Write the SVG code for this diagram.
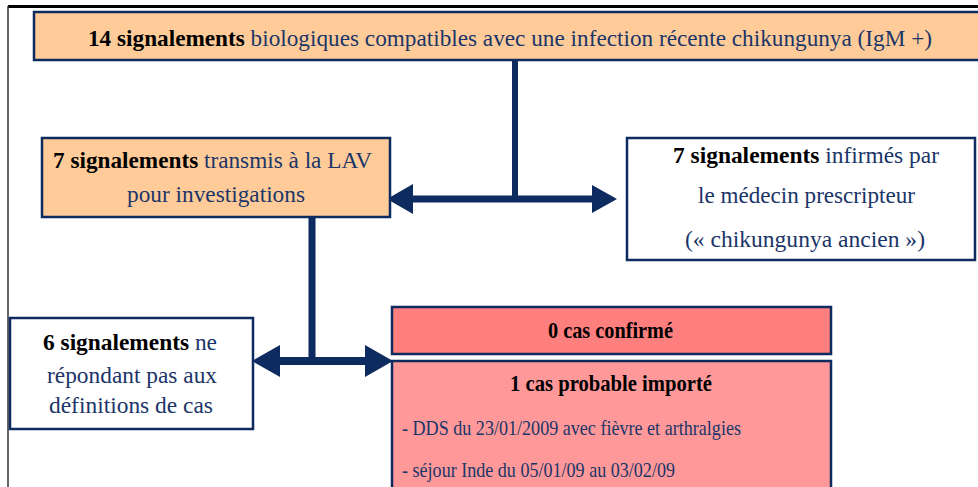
<svg xmlns="http://www.w3.org/2000/svg" width="978" height="487" viewBox="0 0 978 487" font-family="Liberation Serif, Tinos, DejaVu Serif, Noto Serif, Times New Roman, Times, serif">
<style>
.lbl{font-family:"Liberation Serif",LiberationSerif,Tinos,"DejaVu Serif","Noto Serif","Times New Roman",Times,serif;font-size:23px;fill:#1B3568}
.bold{font-weight:bold;fill:#000}
.big{font-size:24px}
.small{font-size:21px}
.box{stroke:#0D2B5E;stroke-width:2.5}
.ln{stroke:#0D2B5E;fill:none}
.ah{fill:#0D2B5E}
</style>
<rect width="978" height="487" fill="#fff"/>
<line x1="8" y1="6.5" x2="978" y2="6.5" stroke="#000" stroke-width="3"/>
<line x1="8" y1="6" x2="8" y2="487" stroke="#333" stroke-width="1.5"/>
<g id="connectors">
<line class="ln" x1="515" y1="60" x2="515" y2="199" stroke-width="6"/>
<line class="ln" x1="410" y1="199" x2="595" y2="199" stroke-width="7"/>
<polygon class="ah" points="387,199 413,184 413,214"/>
<polygon class="ah" points="617,199 592,185 592,213"/>
<line class="ln" x1="312" y1="217" x2="312" y2="361" stroke-width="7" stroke-linecap="round"/>
<line class="ln" x1="278" y1="361" x2="367" y2="361" stroke-width="8"/>
<polygon class="ah" points="252,361 280,345 280,377"/>
<polygon class="ah" points="393,361 365,345 365,377"/>
</g>
<g id="n-top">
<rect class="box" x="34" y="12" width="950" height="48" fill="#FFCC99"/>
<text class="lbl" x="88" y="46" textLength="844" lengthAdjust="spacingAndGlyphs"><tspan class="bold">14 signalements</tspan> biologiques compatibles avec une infection récente chikungunya (IgM +)</text>
</g>
<g id="n-lav">
<rect class="box" x="42" y="138" width="348" height="79" fill="#FFCC99"/>
<text class="lbl" x="53" y="168" textLength="319" lengthAdjust="spacingAndGlyphs"><tspan class="bold">7 signalements</tspan> transmis à la LAV</text>
<text class="lbl" x="127" y="202" textLength="178" lengthAdjust="spacingAndGlyphs">pour investigations</text>
</g>
<g id="n-infirmes">
<rect class="box" x="627" y="138" width="348" height="122" fill="#fff"/>
<text class="lbl" x="673" y="163" textLength="266" lengthAdjust="spacingAndGlyphs"><tspan class="bold">7 signalements</tspan> infirmés par</text>
<text class="lbl" x="698" y="203" textLength="217" lengthAdjust="spacingAndGlyphs">le médecin prescripteur</text>
<text class="lbl" x="685" y="247" textLength="240" lengthAdjust="spacingAndGlyphs">(« chikungunya ancien »)</text>
</g>
<g id="n-nonrep">
<rect class="box" x="10" y="318" width="243" height="111" fill="#fff"/>
<text class="lbl" x="43" y="350" textLength="174" lengthAdjust="spacingAndGlyphs"><tspan class="bold">6 signalements</tspan> ne</text>
<text class="lbl" x="47" y="383" textLength="170" lengthAdjust="spacingAndGlyphs">répondant pas aux</text>
<text class="lbl" x="49" y="413" textLength="164" lengthAdjust="spacingAndGlyphs">définitions de cas</text>
</g>
<g id="n-confirme">
<rect class="box" x="392" y="307" width="439" height="47" fill="#FF7F7F"/>
<text class="lbl bold big" x="548" y="338" textLength="125" lengthAdjust="spacingAndGlyphs">0 cas confirmé</text>
</g>
<g id="n-probable">
<rect class="box" x="392" y="361" width="439" height="140" fill="#FF9999"/>
<text class="lbl bold big" x="510" y="391" textLength="202" lengthAdjust="spacingAndGlyphs">1 cas probable importé</text>
<text class="lbl small" x="402" y="435" textLength="339" lengthAdjust="spacingAndGlyphs">- DDS du 23/01/2009 avec fièvre et arthralgies</text>
<text class="lbl small" x="402" y="477" textLength="273" lengthAdjust="spacingAndGlyphs">- séjour Inde du 05/01/09 au 03/02/09</text>
</g>
</svg>
